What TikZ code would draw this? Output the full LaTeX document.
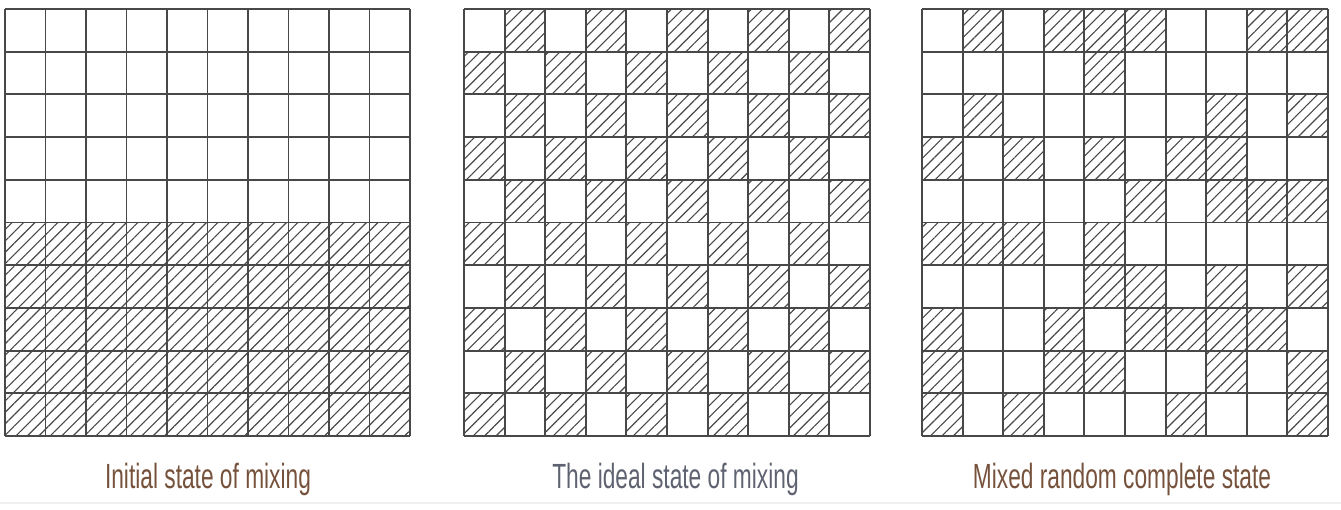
\documentclass[tikz,border=0pt]{standalone}
\usepackage{fontspec}
\newfontfamily\capfont[FakeStretch=0.65]{Liberation Sans}
\usetikzlibrary{patterns.meta}
\definecolor{gridgray}{RGB}{72,72,72}
\definecolor{capbrown}{RGB}{118,82,60}
\definecolor{capgray}{RGB}{95,98,112}
\tikzset{
  gridline/.style={draw=gridgray, line width=1.1pt},
  hatch/.style={pattern={Lines[angle=45, distance=4.6pt, line width=0.65pt]}, pattern color=gridgray},
  caption/.style={anchor=base, inner sep=0pt, font=\capfont\fontsize{19.9}{24}\selectfont},
}

\begin{document}
\begin{tikzpicture}
\useasboundingbox (0,0) rectangle (26.82,10.18);
\draw[gray!12, line width=.6pt] (0,0.12) -- (26.82,0.12);
% initial state: lower half filled
\begin{scope}[shift={(0.1,1.46)}, x=0.81cm, y=0.854cm]
\coordinate (gridA) at (0,0);
\foreach \c in {0,...,9} \foreach \r in {0,...,4} \fill[hatch] (\c,\r) rectangle ++(1,1);
\draw[gridline, step=1] (gridA) grid (10,10);
\end{scope}
% ideal state: checkerboard
\begin{scope}[shift={(9.28,1.46)}, x=0.812cm, y=0.854cm]
\coordinate (gridB) at (0,0);
\foreach \c in {0,...,9} \foreach \r in {0,...,9} {
  \pgfmathtruncatemacro{\odd}{mod(\r+\c,2)}
  \ifnum\odd=0 \fill[hatch] (\c,\r) rectangle ++(1,1); \fi
}
\draw[gridline, step=1] (gridB) grid (10,10);
\end{scope}
% random state: rows counted from the top
\begin{scope}[shift={(18.44,1.46)}, x=0.812cm, y=0.854cm]
\coordinate (gridC) at (0,0);
\foreach \t/\cols in {0/{1,3,4,5,8,9}, 1/{4}, 2/{1,7,9}, 3/{0,2,4,6,7}, 4/{5,7,8,9}, 5/{0,1,2,4}, 6/{4,5,7,9}, 7/{0,3,5,6,7,8}, 8/{0,3,4,7,9}, 9/{0,2,6,9}}
  \foreach \c in \cols \fill[hatch] (\c,9-\t) rectangle ++(1,1);
\draw[gridline, step=1] (gridC) grid (10,10);
\end{scope}
\node[caption, text=capbrown] (capA) at (4.16,0.42) {Initial state of mixing};
\node[caption, text=capgray] (capB) at (13.51,0.42) {The ideal state of mixing};
\node[caption, text=capbrown] (capC) at (22.44,0.42) {Mixed random complete state};
\end{tikzpicture}
\end{document}
